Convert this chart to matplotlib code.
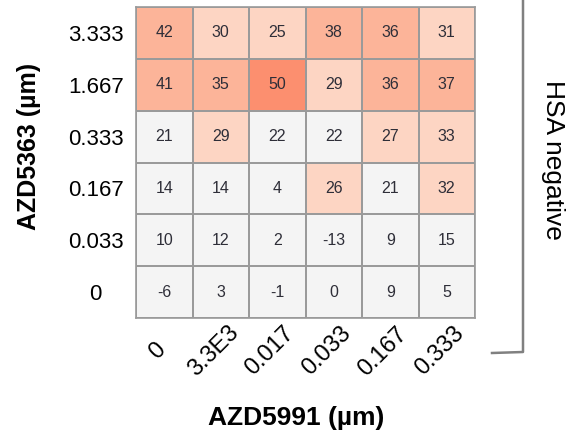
import numpy as np
import matplotlib.pyplot as plt
import matplotlib.transforms as mtransforms
from matplotlib.colors import ListedColormap, BoundaryNorm
from matplotlib.lines import Line2D

plt.rcParams['font.family'] = ['Liberation Sans', 'DejaVu Sans']

# rows listed top to bottom
azd5363 = ['3.333', '1.667', '0.333', '0.167', '0.033', '0']
azd5991 = ['0', '3.3E3', '0.017', '0.033', '0.167', '0.333']
inhibition = np.array([
    [42, 30, 25, 38, 36, 31],
    [41, 35, 50, 29, 36, 37],
    [21, 29, 22, 22, 27, 33],
    [14, 14, 4, 26, 21, 32],
    [10, 12, 2, -13, 9, 15],
    [-6, 3, -1, 0, 9, 5],
])

cmap = ListedColormap(['#f4f4f4', '#fdd5c3', '#fcb499', '#fc8f6f'])
norm = BoundaryNorm([-100, 25, 35, 50, 100], cmap.N)

fig = plt.figure(figsize=(5.87, 4.43), dpi=100)
ax = fig.add_axes([136/587, 1-318/443, (475-136)/587, (318-7)/443])

ax.pcolormesh(inhibition, cmap=cmap, norm=norm, edgecolors='#9a9a9a', linewidth=1.2)
ax.set_xlim(0, 6)
ax.set_ylim(6, 0)

for i in range(inhibition.shape[0]):
    for j in range(inhibition.shape[1]):
        ax.text(j + 0.5, i + 0.5, str(inhibition[i, j]), ha='center', va='center',
                fontsize=11.5, color='#2e2e38')

ax.set_xticks(np.arange(6) + 0.5)
ax.set_xticklabels(azd5991, rotation=45, ha='center', va='center',
                   rotation_mode='anchor', fontsize=17)
ax.set_yticks(np.arange(6) + 0.5)
ax.set_yticklabels(azd5363, fontsize=16, ha='center')
ax.tick_params(axis='y', length=0, pad=29)
ax.tick_params(axis='x', length=0, pad=24)
# labels sit a little left of the column centres in the original
shift = mtransforms.ScaledTranslation(-7/100, 0, fig.dpi_scale_trans)
for lab in ax.get_xticklabels():
    lab.set_transform(lab.get_transform() + shift)
for s in ax.spines.values():
    s.set_color('#9a9a9a')
    s.set_linewidth(1.2)

fig.text(296/587, 1-418/443, 'AZD5991 (µm)', ha='center', va='center',
         fontsize=19, fontweight='bold')
fig.text(29/587, 1-146/443, 'AZD5363 (µm)', ha='center', va='center',
         rotation=90, fontsize=18, fontweight='bold')
fig.text(553/587, 1-160/443, 'HSA negative', ha='center', va='center',
         rotation=-90, fontsize=19)

# bracket on the right
fig.add_artist(Line2D([523/587, 523/587, 492/587], [1.0, 1-352/443, 1-353/443],
                      transform=fig.transFigure, color='#808080', linewidth=1.8))

fig.savefig('out.png', dpi=100)
